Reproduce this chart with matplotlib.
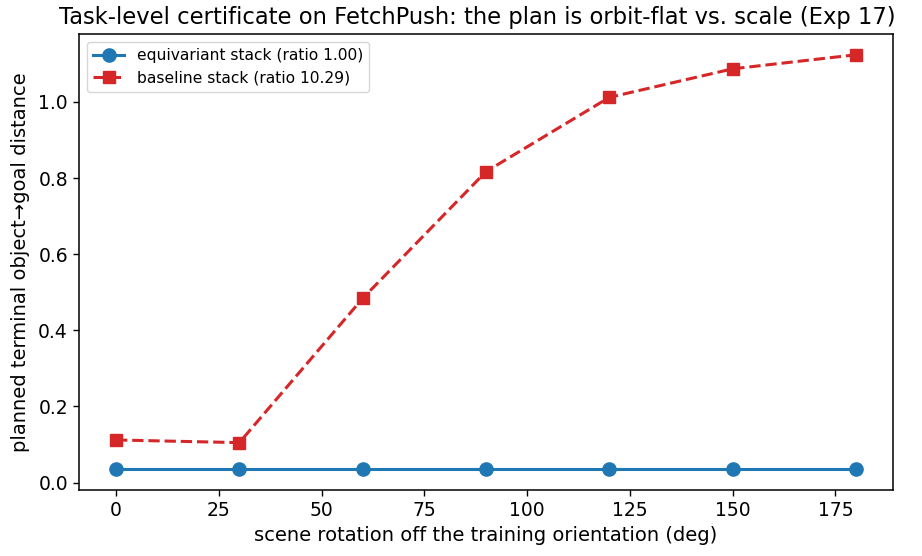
import matplotlib
matplotlib.use("Agg")
import matplotlib.pyplot as plt

angles = [0, 30, 60, 90, 120, 150, 180]
equivariant = [0.035, 0.035, 0.035, 0.035, 0.035, 0.035, 0.035]
baseline = [0.112, 0.105, 0.484, 0.817, 1.012, 1.087, 1.124]
labels = ["equivariant stack (ratio 1.00)", "baseline stack (ratio 10.29)"]

fig, ax = plt.subplots(figsize=(9.22, 5.56), dpi=100)
fig.subplots_adjust(left=0.0857, right=0.9685, top=0.9388, bottom=0.1187)
ax.plot(angles, equivariant, "o-", color="#1f77b4", lw=2.2, ms=9.5, label=labels[0])
ax.plot(angles, baseline, "s--", color="#d62728", lw=2.2, ms=8.5, label=labels[1])
ax.set_xlabel("scene rotation off the training orientation (deg)", fontsize=14)
ax.set_ylabel("planned terminal object\u2192goal distance", fontsize=14, labelpad=6)
ax.set_title("Task-level certificate on FetchPush: the plan is orbit-flat vs. scale (Exp 17)",
             fontsize=16.3, x=0.489, pad=7)
ax.tick_params(labelsize=13.5, length=4.5, width=1)
for s in ax.spines.values():
    s.set_linewidth(1.1)
ax.legend(loc="upper left", fontsize=11.2)
fig.savefig("out.png", dpi=100)
